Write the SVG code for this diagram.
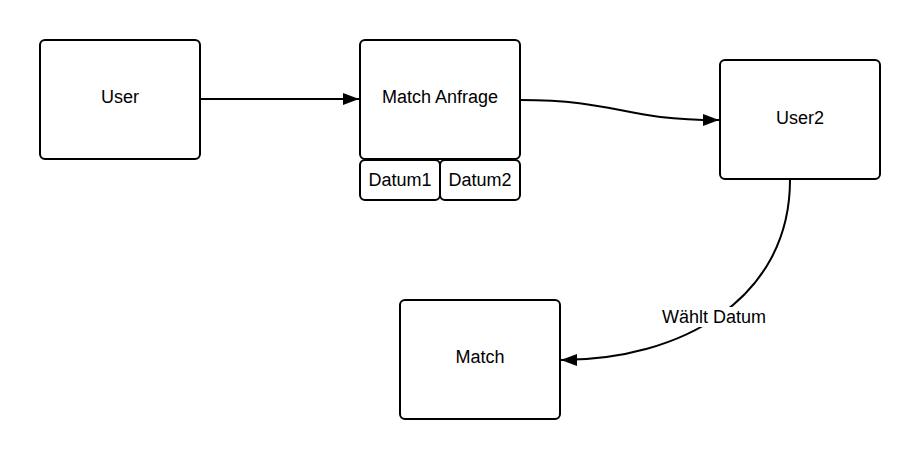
<svg xmlns="http://www.w3.org/2000/svg" width="920" height="460" viewBox="0 0 920 460">
<style>
.box{fill:#fff;stroke:#000;stroke-width:2}
.lbl{font-family:"Liberation Sans",Arial,sans-serif;font-size:18px;fill:#000;text-anchor:middle;dominant-baseline:central}
.edge{fill:none;stroke:#000;stroke-width:2}
</style>
<defs>
<marker id="arr" markerUnits="userSpaceOnUse" markerWidth="18" markerHeight="14" refX="16" refY="6" orient="auto">
<path d="M0,0 L16,6 L0,12 Z" fill="#000"/>
</marker>
</defs>
<rect width="920" height="460" fill="#fff"/>
<g id="connectors">
<path class="edge" d="M200,99 L359,99" marker-end="url(#arr)"/>
<path class="edge" d="M520,100 C620,100 620,120 719,120" marker-end="url(#arr)"/>
<path class="edge" d="M790,180 C790,300 680,360 561,360" marker-end="url(#arr)"/>
<rect x="660" y="307" width="108" height="20" fill="#fff"/>
<text class="lbl" x="714" y="317">Wählt Datum</text>
</g>
<g id="user">
<rect class="box" x="40" y="40" width="160" height="119" rx="5"/>
<text class="lbl" x="120" y="97">User</text>
</g>
<g id="match-anfrage">
<rect class="box" x="360" y="40" width="160" height="119" rx="5"/>
<text class="lbl" x="440" y="97">Match Anfrage</text>
</g>
<g id="datum1">
<rect class="box" x="360" y="160" width="80" height="40" rx="5"/>
<text class="lbl" x="400" y="180">Datum1</text>
</g>
<g id="datum2">
<rect class="box" x="440" y="160" width="80" height="40" rx="5"/>
<text class="lbl" x="480" y="180">Datum2</text>
</g>
<g id="user2">
<rect class="box" x="720" y="60" width="160" height="119" rx="5"/>
<text class="lbl" x="800" y="118">User2</text>
</g>
<g id="match">
<rect class="box" x="400" y="300" width="160" height="119" rx="5"/>
<text class="lbl" x="480" y="357">Match</text>
</g>
</svg>
